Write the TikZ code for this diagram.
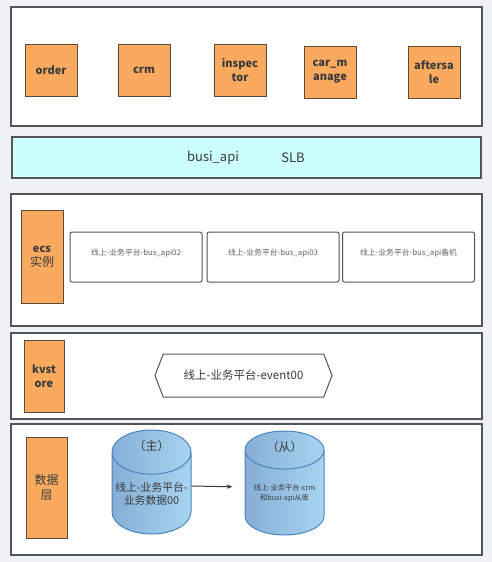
\documentclass[tikz,border=0pt]{standalone}
\usepackage{fontspec}
\setmainfont{Noto Sans CJK SC}
\usetikzlibrary{arrows.meta,shapes.geometric,shapes.symbols}
\definecolor{pagebg}{HTML}{EEF1F6}
\definecolor{edge}{HTML}{555555}
\definecolor{tagfill}{HTML}{F9AA5F}
\definecolor{tagedge}{HTML}{5C4A3A}
\definecolor{slbfill}{HTML}{CCFFFF}
\definecolor{txt}{HTML}{3A3A3A}
\definecolor{dbdark}{HTML}{86AED6}
\definecolor{dblight}{HTML}{A8D4F0}
\definecolor{dbedge}{HTML}{4A86C0}

\begin{document}
\begin{tikzpicture}[x=1pt,y=-1pt,
  panel/.style={draw=edge,line width=1.3pt,fill=white,minimum width=471pt},
  tag/.style={draw=tagedge,fill=tagfill,line width=1pt,align=center,text=txt,font=\fontsize{11}{14}\selectfont\bfseries},
  svc/.style={tag,minimum width=52pt,minimum height=52pt},
  host/.style={draw=edge,line width=1pt,rounded corners=2pt,fill=white,minimum width=132pt,minimum height=50pt,text=txt!80,text depth=10pt,font=\fontsize{7.8}{9}\selectfont},
  db/.style={cylinder,shape border rotate=90,aspect=0.56,draw=dbedge,line width=1pt,left color=dbdark,right color=dblight,minimum width=79pt,minimum height=104pt,anchor=shape center,align=center,text=txt,text depth=8pt},
  dbhead/.style={anchor=north,inner sep=1pt,yshift=-10pt,text=txt,font=\fontsize{12}{14}\selectfont}]
\fill[pagebg] (0,0) rectangle (492,562);
% layers
\node[panel,minimum height=119pt] (top) at (246.5,66.5) {};
\node[panel,fill=slbfill,minimum width=469pt,minimum height=41pt] (slb) at (246.5,157.5) {};
\node[panel,minimum height=132pt] (ecs) at (246.5,260) {};
\node[panel,minimum height=86pt] (kv) at (246.5,376) {};
\node[panel,minimum height=131pt] (data) at (246.5,489.5) {};
% services
\node[svc] (order) at (51,70) {order};
\node[svc] (crm) at (144,70) {crm};
\node[svc] (insp) at (240,70) {inspec\\tor};
\node[svc] (car) at (330,72) {car\_m\\anage};
\node[svc] (after) at (434,72) {aftersa\\le};
\node[text=txt,font=\fontsize{13}{15}\selectfont] (busi) at (213,158) {busi\_api};
\node[text=txt,font=\fontsize{13}{15}\selectfont] (lb) at (293,158) {SLB};
% ecs
\node[tag,minimum width=42pt,minimum height=93pt] (ecstag) at (42,256.5) {ecs\\{\mdseries\fontsize{12}{14}\selectfont 实例}};
\node[host] (h2) at (136,257) {线上-业务平台-bus\_api02};
\node[host] (h3) at (273,257) {线上-业务平台-bus\_api03};
\node[host] (hb) at (408.5,257) {线上-业务平台-bus\_api备机};
% kvstore
\node[tag,minimum width=40pt,minimum height=72pt] (kvtag) at (44,376) {kvst\\ore};
\node[signal,signal to=west and east,signal pointer angle=138,draw=edge,line width=1pt,fill=white,minimum width=177pt,minimum height=43pt,text=txt,font=\fontsize{11.5}{13}\selectfont] (ev) at (243.5,375.5) {线上-业务平台-event00};
% data
\node[tag,minimum width=41pt,minimum height=101pt,font=\fontsize{12}{15}\selectfont] (datatag) at (46.5,487.5) {数据\\层};
\node[db,font=\fontsize{10.8}{13}\selectfont,label={[dbhead]north:（主）}] (m1) at (151.5,482) {线上-业务平台-\\业务数据00};
\node[db,font=\fontsize{7.2}{9.5}\selectfont,label={[dbhead]north:（从）}] (s1) at (284.5,483) {线上-业务平台-crm\\和busi-api从库};
\draw[-{Stealth[length=6pt]},line width=1pt,draw=txt,shorten >=12pt] ([yshift=-4pt]m1.shape center -| m1.east) -- ([yshift=-4pt]s1.shape center -| s1.west);
\end{tikzpicture}
\end{document}
